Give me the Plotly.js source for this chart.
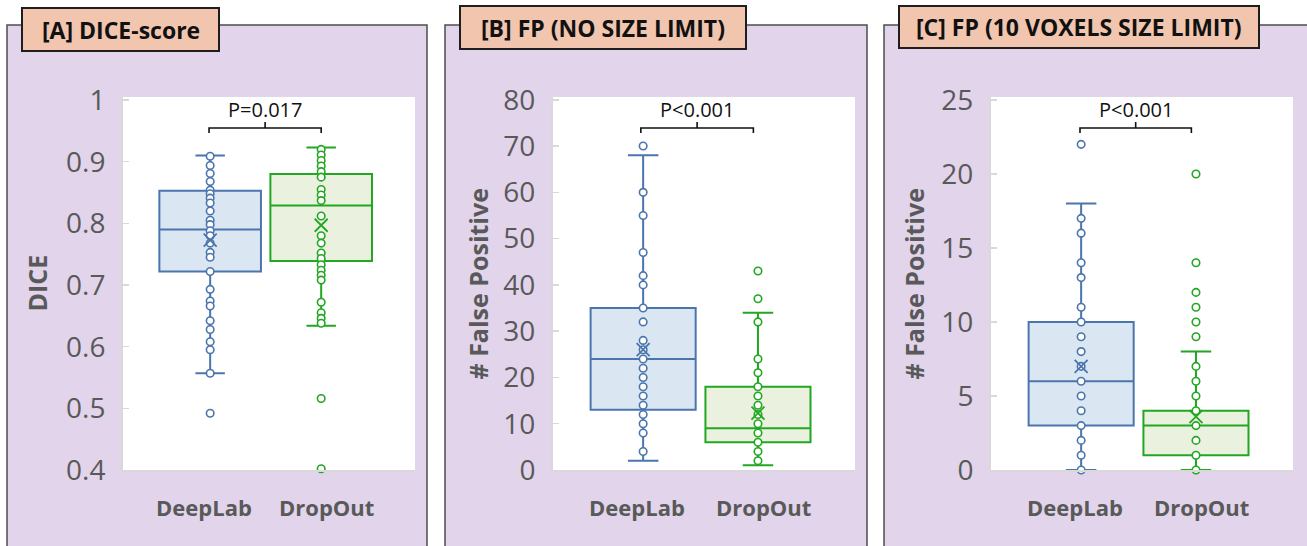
<!DOCTYPE html>
<html>
<head>
<meta charset="utf-8">
<script src="https://cdn.plot.ly/plotly-3.0.1.min.js"></script>
<style>
html,body{margin:0;padding:0;background:#fff;}
#chart{width:1307px;height:546px;}
</style>
</head>
<body>
<div id="chart"></div>
<script>
// ---------------- DATA ----------------
const categories = ['DeepLab', 'DropOut'];
const panelTitles = ['[A] DICE-score', '[B] FP (NO SIZE LIMIT)', '[C] FP (10 VOXELS SIZE LIMIT)'];
const yTitles = ['DICE', '# False Positive', '# False Positive'];
const pLabels = ['P=0.017', 'P<0.001', 'P<0.001'];

const diceTicks = [0.4, 0.5, 0.6, 0.7, 0.8, 0.9, 1];
const fpTicks = [0, 10, 20, 30, 40, 50, 60, 70, 80];
const fp10Ticks = [0, 5, 10, 15, 20, 25];

// individual points
const diceDeepLab = [0.909, 0.894, 0.881, 0.868, 0.854, 0.848, 0.841, 0.833, 0.820, 0.805, 0.798, 0.788, 0.780,
                     0.768, 0.753, 0.745, 0.722, 0.693, 0.674, 0.666, 0.642, 0.628, 0.608, 0.595, 0.557, 0.492];
const diceDropOut = [0.920, 0.911, 0.902, 0.893, 0.884, 0.875, 0.855, 0.846, 0.837, 0.812, 0.780, 0.768, 0.752,
                     0.743, 0.733, 0.724, 0.716, 0.708, 0.672, 0.655, 0.646, 0.638, 0.516, 0.402];
const fpDeepLab = [70, 60, 55, 47, 42, 40, 35, 32, 28, 26, 24, 22, 20, 18, 16, 14, 12, 10, 8, 4];
const fpDropOut = [43, 37, 32, 24, 21, 18, 16, 14, 12, 10, 8, 6, 4, 2];
const fp10DeepLab = [22, 17, 16, 14, 13, 11, 10, 9, 8, 7, 6, 5, 4, 3, 2, 1, 0];
const fp10DropOut = [20, 14, 12, 11, 10, 9, 7, 6, 5, 4, 3, 2, 1, 0];

// box statistics [DeepLab, DropOut]
const diceQ1 = [0.722, 0.739];
const diceMedian = [0.790, 0.829];
const diceQ3 = [0.853, 0.880];
const diceLow = [0.557, 0.634];
const diceHigh = [0.910, 0.923];
const diceMean = [0.773, 0.797];

const fpQ1 = [13, 6];
const fpMedian = [24, 9];
const fpQ3 = [35, 18];
const fpLow = [2, 1];
const fpHigh = [68, 34];
const fpMean = [26, 12.3];

const fp10Q1 = [3, 1];
const fp10Median = [6, 3];
const fp10Q3 = [10, 4];
const fp10Low = [0, 0];
const fp10High = [18, 8];
const fp10Mean = [7, 3.6];

// ---------------- STYLE / LAYOUT ----------------
const W = 1307, H = 546;
const px = x => x / W;
const py = y => 1 - y / H;

const lineColors = ['#4B75AD', '#22A722'];
const fillColors = ['#DAE7F3', '#EBF1DF'];
const FONT = 'Open Sans, Noto Sans, sans-serif';

const panels = [
  {lav: [7, 427], tb: [22, 219, 8, 51], plot: [123, 415], yt: 36, range: [0.4, 1.005], ticks: diceTicks,
   pts: [diceDeepLab, diceDropOut], q1: diceQ1, med: diceMedian, q3: diceQ3, lo: diceLow, hi: diceHigh, mean: diceMean,
   br: [-0.01, 1.0]},
  {lav: [445, 867], tb: [460, 746, 6, 49], plot: [553, 855], yt: 477, range: [0, 80.6], ticks: fpTicks,
   pts: [fpDeepLab, fpDropOut], q1: fpQ1, med: fpMedian, q3: fpQ3, lo: fpLow, hi: fpHigh, mean: fpMean,
   br: [-0.02, 0.96]},
  {lav: [884, 1330], tb: [899, 1259, 6, 48], plot: [991, 1293], yt: 913, range: [0, 25.2], ticks: fp10Ticks,
   pts: [fp10DeepLab, fp10DropOut], q1: fp10Q1, med: fp10Median, q3: fp10Q3, lo: fp10Low, hi: fp10High, mean: fp10Mean,
   br: [-0.01, 0.96]}
];

const PLOT_TOP = 97, PLOT_BOT = 470;
const traces = [];
const shapes = [];
const annotations = [];
const layout = {
  width: W, height: H,
  margin: {l: 0, r: 0, t: 0, b: 0},
  paper_bgcolor: '#ffffff',
  plot_bgcolor: 'rgba(0,0,0,0)',
  showlegend: false,
  shapes: shapes,
  annotations: annotations,
  font: {family: FONT}
};

// lavender panels first
panels.forEach(p => {
  shapes.push({type: 'rect', xref: 'paper', yref: 'paper', layer: 'below',
    x0: px(p.lav[0]), x1: px(p.lav[1]), y0: -0.2, y1: py(25),
    fillcolor: '#E1D4EB', line: {color: '#4D4D4D', width: 1.5}});
});

panels.forEach((p, i) => {
  const sfx = i === 0 ? '' : String(i + 1);
  const xa = 'x' + sfx, ya = 'y' + sfx;
  layout['xaxis' + sfx] = {
    domain: [px(p.plot[0]), px(p.plot[1])], anchor: ya,
    range: [-0.785, 1.845], showticklabels: false, ticks: '',
    showgrid: false, zeroline: false, showline: true, linecolor: '#D9D9D9', linewidth: 2,
    layer: 'above traces', fixedrange: true
  };
  layout['yaxis' + sfx] = {
    domain: [py(PLOT_BOT), py(PLOT_TOP)], anchor: xa,
    range: p.range, tickvals: p.ticks, ticks: 'inside', ticklen: 6, tickcolor: '#D9D9D9', tickwidth: 1.5,
    showgrid: false, zeroline: false, showline: true, linecolor: '#D9D9D9', linewidth: 2,
    tickfont: {family: FONT, size: 28, color: '#595959'}, ticklabelstandoff: 10,
    layer: 'above traces', fixedrange: true
  };

  // white plot area
  shapes.push({type: 'rect', xref: xa + ' domain', yref: ya + ' domain', layer: 'below',
    x0: 0, x1: 1, y0: 0, y1: 1, fillcolor: '#ffffff', line: {width: 0}});

  // title box
  shapes.push({type: 'rect', xref: 'paper', yref: 'paper', layer: 'above',
    x0: px(p.tb[0]), x1: px(p.tb[1]), y0: py(p.tb[3]), y1: py(p.tb[2]),
    fillcolor: '#F2C5AF', line: {color: '#1E1E1E', width: 2}});
  annotations.push({xref: 'paper', yref: 'paper', x: px((p.tb[0] + p.tb[1]) / 2), y: py((p.tb[2] + p.tb[3]) / 2),
    text: panelTitles[i], showarrow: false, xanchor: 'center', yanchor: 'middle',
    font: {family: FONT, size: 23, color: '#111111', weight: 700}});

  // y title
  annotations.push({xref: 'paper', yref: 'paper', x: px(p.yt), y: py((PLOT_TOP + PLOT_BOT) / 2),
    text: yTitles[i], textangle: -90, showarrow: false, xanchor: 'center', yanchor: 'middle',
    font: {family: FONT, size: 25, color: '#595959', weight: 700}});

  // category labels
  const offs = [-0.055, 0.045];
  categories.forEach((c, k) => {
    annotations.push({xref: xa, yref: 'paper', x: k + offs[k], y: py(507),
      text: c, showarrow: false, xanchor: 'center', yanchor: 'middle',
      font: {family: FONT, size: 22, color: '#595959', weight: 700}});
  });

  // significance bracket
  const yA = (PLOT_BOT - 133) / (PLOT_BOT - PLOT_TOP);
  const yB = (PLOT_BOT - 128) / (PLOT_BOT - PLOT_TOP);
  const yC = (PLOT_BOT - 122) / (PLOT_BOT - PLOT_TOP);
  const x0 = p.br[0], x1 = p.br[1], xm = (x0 + x1) / 2;
  shapes.push({type: 'path', xref: xa, yref: ya + ' domain', layer: 'above',
    path: `M${x0},${yA} L${x0},${yB} L${x1},${yB} L${x1},${yA} M${xm},${yB} L${xm},${yC}`,
    line: {color: '#111111', width: 1.6}});
  annotations.push({xref: xa, yref: 'paper', x: xm, y: py(110),
    text: pLabels[i], showarrow: false, xanchor: 'center', yanchor: 'middle',
    font: {family: FONT, size: 20, color: '#111111'}});

  // boxes
  categories.forEach((c, k) => {
    traces.push({
      type: 'box', name: c, xaxis: xa, yaxis: ya,
      x: [k], q1: [p.q1[k]], median: [p.med[k]], q3: [p.q3[k]],
      lowerfence: [p.lo[k]], upperfence: [p.hi[k]],
      boxpoints: false, width: 0.915, whiskerwidth: 0.29,
      fillcolor: fillColors[k], line: {color: lineColors[k], width: 2},
      hoverinfo: 'skip'
    });
  });
  // points and means
  categories.forEach((c, k) => {
    traces.push({
      type: 'scatter', mode: 'markers', xaxis: xa, yaxis: ya, cliponaxis: false,
      x: p.pts[k].map(() => k), y: p.pts[k],
      marker: {symbol: 'circle', size: 7.5, color: '#ffffff', line: {color: lineColors[k], width: 1.6}},
      hoverinfo: 'skip'
    });
    traces.push({
      type: 'scatter', mode: 'markers', xaxis: xa, yaxis: ya, cliponaxis: false,
      x: [k], y: [p.mean[k]],
      marker: {symbol: 'x-thin-open', size: 13, color: lineColors[k], line: {color: lineColors[k], width: 1.8}},
      hoverinfo: 'skip'
    });
  });
});

Plotly.newPlot('chart', traces, layout, {staticPlot: true, displayModeBar: false});
</script>
</body>
</html>
